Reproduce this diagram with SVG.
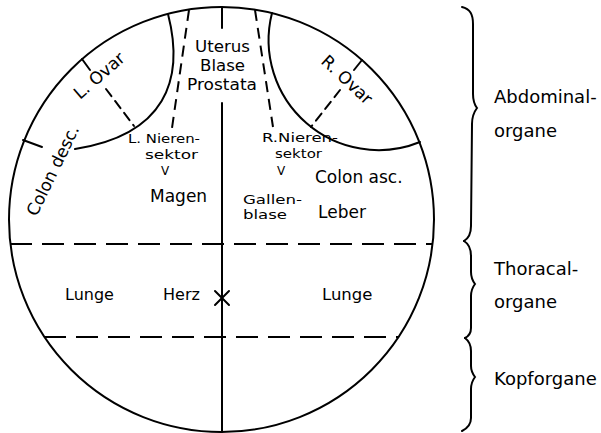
<svg xmlns="http://www.w3.org/2000/svg" width="601" height="433" viewBox="0 0 601 433">
<style>
.ln{fill:none;stroke:#000;stroke-width:2;stroke-linecap:round}
.ds{fill:none;stroke:#000;stroke-width:2;stroke-dasharray:11 7}
.hd{fill:none;stroke:#000;stroke-width:2;stroke-dasharray:22 10}
text{font-family:"DejaVu Sans","Liberation Sans",sans-serif;fill:#000}
.sm{font-size:13px}
.md{font-size:15px}
</style>
<rect width="601" height="433" fill="#fff"/>
<g id="outline">
<circle class="ln" cx="221.5" cy="219.5" r="212.5"/>
<line class="ln" x1="222" y1="7" x2="222" y2="28"/>
<line class="ln" x1="222" y1="103" x2="222" y2="432"/>
</g>
<g id="abdomen">
<path class="ln" d="M168,14 C185,80 165,135 75,149"/>
<path class="ln" d="M272,13 A110,110 0 0 0 420,142"/>
<line class="ds" x1="189" y1="10" x2="172" y2="128"/>
<line class="ds" x1="255" y1="10" x2="273" y2="127"/>
<line class="ln" x1="82" y1="59" x2="90" y2="70"/>
<line class="ln" x1="362" y1="60" x2="354" y2="70"/>
<line class="ln" x1="23" y1="140" x2="42" y2="147"/>
<line class="ln" x1="106" y1="89" x2="134" y2="126" stroke-dasharray="9 6"/>
<line class="ln" x1="340" y1="90" x2="311" y2="127" stroke-dasharray="9 6"/>
</g>
<g id="dividers">
<line class="hd" x1="10" y1="244" x2="433" y2="244"/>
<line class="hd" x1="44" y1="337" x2="399" y2="337"/>
</g>
<g id="herz-mark">
<line class="ln" x1="215" y1="291" x2="229" y2="305"/>
<line class="ln" x1="229" y1="291" x2="215" y2="305"/>
</g>
<g id="labels">
<text class="md" x="195" y="52" textLength="55" lengthAdjust="spacingAndGlyphs">Uterus</text>
<text class="md" x="200" y="71" textLength="45" lengthAdjust="spacingAndGlyphs">Blase</text>
<text class="md" x="187" y="90" textLength="70" lengthAdjust="spacingAndGlyphs">Prostata</text>
<text transform="translate(103,80) rotate(-41)" font-size="17" text-anchor="middle">L. Ovar</text>
<text transform="translate(58,173) rotate(-64)" font-size="17" text-anchor="middle">Colon desc.</text>
<text transform="translate(343,84) rotate(43)" font-size="17" text-anchor="middle">R. Ovar</text>
<text class="sm" x="128" y="143" textLength="72" lengthAdjust="spacingAndGlyphs">L. Nieren-</text>
<text class="sm" x="145" y="159" textLength="53" lengthAdjust="spacingAndGlyphs">sektor</text>
<text x="165" y="175" font-size="12" text-anchor="middle">V</text>
<text x="150" y="202" font-size="17">Magen</text>
<text class="sm" x="262" y="142" textLength="76" lengthAdjust="spacingAndGlyphs">R.Nieren-</text>
<text class="sm" x="275" y="158" textLength="47" lengthAdjust="spacingAndGlyphs">sektor</text>
<text x="281" y="175" font-size="12" text-anchor="middle">V</text>
<text x="315" y="183" font-size="17">Colon asc.</text>
<text class="sm" x="243" y="204" textLength="59" lengthAdjust="spacingAndGlyphs">Gallen-</text>
<text class="sm" x="243" y="219" textLength="44" lengthAdjust="spacingAndGlyphs">blase</text>
<text x="318" y="218" font-size="17">Leber</text>
<text x="65" y="300" font-size="16">Lunge</text>
<text x="163" y="300" font-size="16">Herz</text>
<text x="322" y="300" font-size="16.5">Lunge</text>
</g>
<g id="braces">
<path class="ln" d="M462,7 C470,9 473,14 473,24 L473,94 C473,100 474,104 477,108 C474,112 472,116 472,124 L471,226 C471,234 469,238 464,241"/>
<path class="ln" d="M464,241 C469,244 471,248 471,256 L471,272 C471,277 472,280 475,284 C472,288 471,291 471,296 L471,328 C471,333 469,336 465,338"/>
<path class="ln" d="M465,338 C469,341 471,345 471,351 L471,366 C471,370 472,373 475,377 C472,381 471,384 471,389 L471,418 C471,424 468,428 462,431"/>
</g>
<g id="region-labels">
<text x="494" y="103" font-size="18">Abdominal-</text>
<text x="494" y="137" font-size="18">organe</text>
<text x="494" y="275" font-size="18">Thoracal-</text>
<text x="494" y="308" font-size="18">organe</text>
<text x="494" y="385" font-size="18">Kopforgane</text>
</g>
</svg>
